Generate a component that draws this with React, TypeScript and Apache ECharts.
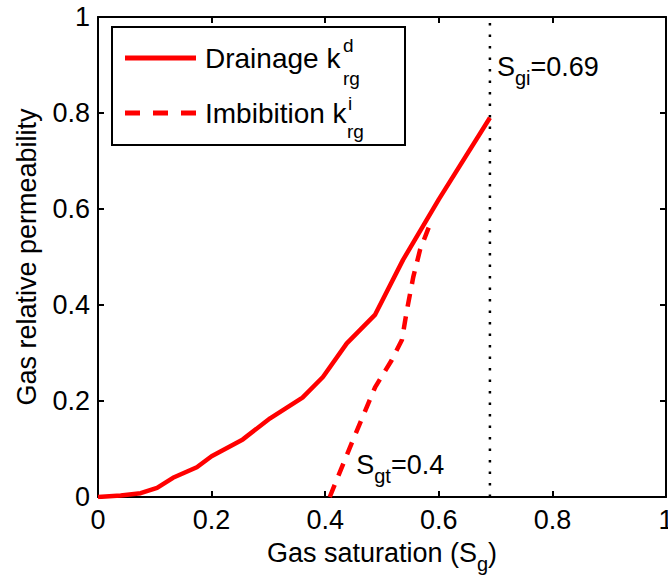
import React, { useEffect, useRef } from "react";
import * as echarts from "echarts";

// Axis ticks
const xTicks = [0, 0.2, 0.4, 0.6, 0.8, 1];
const yTicks = [0, 0.2, 0.4, 0.6, 0.8, 1];

// Drainage curve k_rg^d
const drainageSg = [0, 0.04, 0.075, 0.104, 0.132, 0.174, 0.2, 0.255, 0.303, 0.36, 0.396, 0.438, 0.488, 0.537, 0.6, 0.69];
const drainageKrg = [0, 0.003, 0.008, 0.019, 0.04, 0.062, 0.085, 0.12, 0.164, 0.207, 0.25, 0.32, 0.38, 0.494, 0.62, 0.79];

// Imbibition curve k_rg^i
const imbibitionSg = [0.408, 0.449, 0.488, 0.517, 0.535, 0.544, 0.555, 0.567, 0.585];
const imbibitionKrg = [0, 0.119, 0.229, 0.285, 0.327, 0.39, 0.458, 0.515, 0.57];

// Characteristic saturations
const sgi = 0.69;
const sgt = 0.4;

const FONT = "'Liberation Sans', Arial, Helvetica, sans-serif";
const RED = "#ff0000";

export default function App() {
  const ref = useRef<HTMLDivElement>(null);

  useEffect(() => {
    const chart = echarts.init(ref.current!, null, { renderer: "svg" });

    const axisCommon = {
      type: "value",
      min: 0,
      max: 1,
      interval: 0.2,
      axisLine: { show: true, onZero: false, lineStyle: { color: "#000", width: 2 } },
      axisTick: { show: true, inside: true, length: 6, lineStyle: { color: "#000", width: 2 } },
      splitLine: { show: false },
    };

    const richTitle = {
      t: { fontSize: 27, fontFamily: FONT, color: "#000", verticalAlign: "middle", lineHeight: 42 },
      sub: { fontSize: 20, fontFamily: FONT, color: "#000", verticalAlign: "bottom", padding: [22, 0, 0, 0] },
    };

    chart.setOption({
      animation: false,
      grid: { left: 98, right: 2, top: 17, bottom: 86, outerBoundsMode: "none", containLabel: false },
      xAxis: [
        {
          ...axisCommon,
          position: "bottom",
          axisLabel: {
            color: "#000",
            fontSize: 27,
            fontFamily: FONT,
            margin: 9,
            formatter: (v: number) => (xTicks.includes(Math.round(v * 10) / 10) ? String(Math.round(v * 10) / 10) : ""),
          },
          name: "{t|Gas saturation (S}{sub|g}{t|)}",
          nameLocation: "middle",
          nameGap: 35,
          nameTextStyle: { rich: richTitle },
        },
        {
          ...axisCommon,
          position: "top",
          axisLabel: { show: false },
        },
      ],
      yAxis: [
        {
          ...axisCommon,
          position: "left",
          axisLabel: {
            color: "#000",
            fontSize: 27,
            fontFamily: FONT,
            margin: 8,
            formatter: (v: number) => (yTicks.includes(Math.round(v * 10) / 10) ? String(Math.round(v * 10) / 10) : ""),
          },
          name: "Gas relative permeability",
          nameLocation: "middle",
          nameGap: 58,
          nameTextStyle: { fontSize: 27, fontFamily: FONT, color: "#000" },
        },
        {
          ...axisCommon,
          position: "right",
          axisLabel: { show: false },
        },
      ],
      series: [
        {
          name: "Sgi",
          type: "line",
          xAxisIndex: 0,
          yAxisIndex: 0,
          data: [
            [sgi, 0],
            [sgi, 1],
          ],
          symbol: "none",
          lineStyle: { color: "#000", width: 2.5, type: [2.5, 9] },
          z: 1,
        },
        {
          name: "Drainage",
          type: "line",
          xAxisIndex: 0,
          yAxisIndex: 0,
          data: drainageSg.map((x, i) => [x, drainageKrg[i]]),
          symbol: "none",
          lineStyle: { color: RED, width: 4.5 },
          z: 3,
        },
        {
          name: "Imbibition",
          type: "line",
          xAxisIndex: 0,
          yAxisIndex: 0,
          data: imbibitionSg.map((x, i) => [x, imbibitionKrg[i]]),
          symbol: "none",
          lineStyle: { color: RED, width: 4.5, type: [13, 10] },
          z: 3,
        },
      ],
    });

    const pGi = chart.convertToPixel({ xAxisIndex: 0, yAxisIndex: 0 }, [sgi, 0.896]) as number[];
    const pGt = chart.convertToPixel({ xAxisIndex: 0, yAxisIndex: 0 }, [sgt, 0.067]) as number[];

    const richAnn = {
      s: { fontSize: 27, fontFamily: FONT, fill: "#000", color: "#000", verticalAlign: "middle", lineHeight: 42 },
      sub: { fontSize: 20, fontFamily: FONT, fill: "#000", color: "#000", verticalAlign: "bottom", padding: [22, 0, 0, 0] },
    };

    const txt = (x: number, y: number, text: string, size: number) => ({
      type: "text",
      x,
      y,
      style: { text, fontSize: size, fontFamily: FONT, fill: "#000", verticalAlign: "middle", align: "left" },
      z: 101,
    });

    chart.setOption({
      graphic: [
        {
          type: "text",
          x: pGi[0] + 7,
          y: pGi[1],
          style: { text: "{s|S}{sub|gi}{s|=0.69}", rich: richAnn, verticalAlign: "middle", align: "left" },
          z: 101,
        },
        {
          type: "text",
          x: pGt[0] + 31,
          y: pGt[1],
          style: { text: "{s|S}{sub|gt}{s|=0.4}", rich: richAnn, verticalAlign: "middle", align: "left" },
          z: 101,
        },
        {
          type: "rect",
          shape: { x: 112, y: 27, width: 293, height: 118 },
          style: { fill: "#fff", stroke: "#000", lineWidth: 2 },
          z: 100,
        },
        {
          type: "line",
          shape: { x1: 125, y1: 58, x2: 196, y2: 58 },
          style: { stroke: RED, lineWidth: 5 },
          z: 101,
        },
        {
          type: "line",
          shape: { x1: 125, y1: 113, x2: 197, y2: 113 },
          style: { stroke: RED, lineWidth: 5, lineDash: [15, 13] },
          z: 101,
        },
        txt(205, 58, "Drainage k", 28),
        txt(343, 45, "d", 19),
        txt(343, 78, "rg", 19),
        txt(205, 113, "Imbibition k", 28),
        txt(348, 103, "i", 19),
        txt(347, 131, "rg", 19),
      ],
    });

    return () => chart.dispose();
  }, []);

  return (
    <div
      ref={ref}
      style={{ position: "fixed", left: 0, top: 0, width: 668, height: 583, background: "#fff" }}
    />
  );
}
